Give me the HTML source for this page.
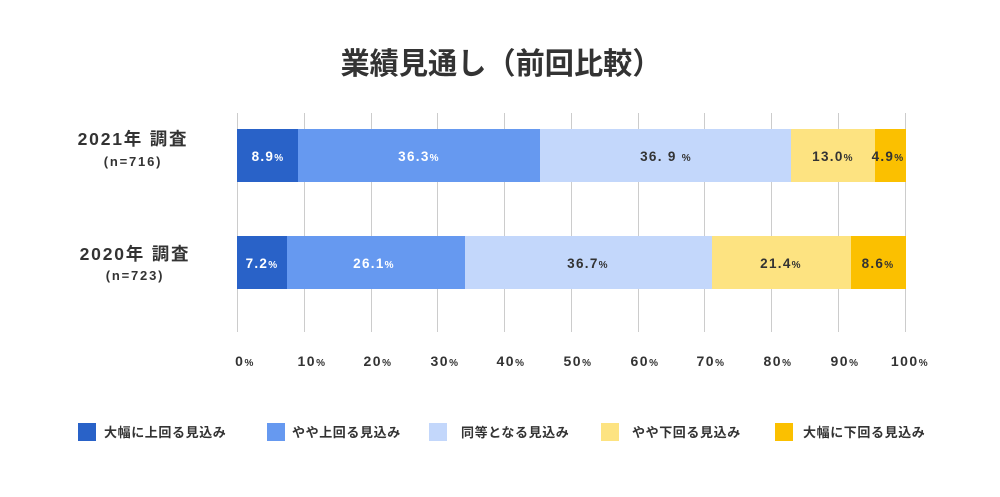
<!DOCTYPE html>
<html><head><meta charset="utf-8"><style>
html,body{margin:0;padding:0;background:#fff;}
svg{display:block;}
text{font-family:"Liberation Sans","Noto Sans CJK JP",sans-serif;font-weight:bold;}
</style></head><body>
<svg width="1000" height="497" viewBox="0 0 1000 497" xmlns="http://www.w3.org/2000/svg">
<text x="501" y="74" font-size="30" fill="#333" text-anchor="middle" textLength="321" lengthAdjust="spacingAndGlyphs">業績見通し（前回比較）</text>
<g stroke="#cccccc" stroke-width="1">
<line x1="237.5" y1="113" x2="237.5" y2="332"/>
<line x1="304.5" y1="113" x2="304.5" y2="332"/>
<line x1="371.5" y1="113" x2="371.5" y2="332"/>
<line x1="437.5" y1="113" x2="437.5" y2="332"/>
<line x1="504.5" y1="113" x2="504.5" y2="332"/>
<line x1="571.5" y1="113" x2="571.5" y2="332"/>
<line x1="638.5" y1="113" x2="638.5" y2="332"/>
<line x1="704.5" y1="113" x2="704.5" y2="332"/>
<line x1="771.5" y1="113" x2="771.5" y2="332"/>
<line x1="838.5" y1="113" x2="838.5" y2="332"/>
<line x1="905.5" y1="113" x2="905.5" y2="332"/>
</g>
<rect x="237" y="129" width="61" height="53" fill="#2962c8"/>
<rect x="298" y="129" width="242" height="53" fill="#6699f0"/>
<rect x="540" y="129" width="251" height="53" fill="#c3d7fb"/>
<rect x="791" y="129" width="84" height="53" fill="#fde381"/>
<rect x="875" y="129" width="31" height="53" fill="#fbc000"/>
<rect x="237" y="236" width="50" height="53" fill="#2962c8"/>
<rect x="287" y="236" width="178" height="53" fill="#6699f0"/>
<rect x="465" y="236" width="247" height="53" fill="#c3d7fb"/>
<rect x="712" y="236" width="139" height="53" fill="#fde381"/>
<rect x="851" y="236" width="55" height="53" fill="#fbc000"/>
<g font-size="13.5" text-anchor="middle" letter-spacing="1.3">
<text x="268" y="161" fill="#fff">8.9<tspan font-size="10">%</tspan></text>
<text x="419" y="161" fill="#fff">36.3<tspan font-size="10">%</tspan></text>
<text x="666" y="161" fill="#333">36. 9 <tspan font-size="10">%</tspan></text>
<text x="833" y="161" fill="#333">13.0<tspan font-size="10">%</tspan></text>
<text x="888" y="161" fill="#333">4.9<tspan font-size="10">%</tspan></text>
<text x="262" y="268" fill="#fff">7.2<tspan font-size="10">%</tspan></text>
<text x="374" y="268" fill="#fff">26.1<tspan font-size="10">%</tspan></text>
<text x="588" y="268" fill="#333">36.7<tspan font-size="10">%</tspan></text>
<text x="781" y="268" fill="#333">21.4<tspan font-size="10">%</tspan></text>
<text x="878" y="268" fill="#333">8.6<tspan font-size="10">%</tspan></text>
</g>
<g fill="#333" text-anchor="middle" letter-spacing="1.8">
<text x="133" y="145" font-size="17.5">2021年 調査</text>
<text x="133" y="166" font-size="13">(n=716)</text>
<text x="135" y="260" font-size="17.5">2020年 調査</text>
<text x="135" y="280" font-size="13">(n=723)</text>
</g>
<g fill="#333" font-size="14" text-anchor="middle" letter-spacing="1.5">
<text x="245" y="366">0<tspan font-size="10">%</tspan></text>
<text x="312" y="366">10<tspan font-size="10">%</tspan></text>
<text x="378" y="366">20<tspan font-size="10">%</tspan></text>
<text x="445" y="366">30<tspan font-size="10">%</tspan></text>
<text x="511" y="366">40<tspan font-size="10">%</tspan></text>
<text x="578" y="366">50<tspan font-size="10">%</tspan></text>
<text x="645" y="366">60<tspan font-size="10">%</tspan></text>
<text x="711" y="366">70<tspan font-size="10">%</tspan></text>
<text x="778" y="366">80<tspan font-size="10">%</tspan></text>
<text x="845" y="366">90<tspan font-size="10">%</tspan></text>
<text x="910" y="366">100<tspan font-size="10">%</tspan></text>
</g>
<rect x="78" y="423" width="18" height="18" fill="#2962c8"/>
<rect x="267" y="423" width="18" height="18" fill="#6699f0"/>
<rect x="429" y="423" width="18" height="18" fill="#c3d7fb"/>
<rect x="601" y="423" width="18" height="18" fill="#fde381"/>
<rect x="775" y="423" width="18" height="18" fill="#fbc000"/>
<g fill="#333" font-size="13" letter-spacing="0.6">
<text x="104" y="437">大幅に上回る見込み</text>
<text x="292" y="437">やや上回る見込み</text>
<text x="461" y="437">同等となる見込み</text>
<text x="632" y="437">やや下回る見込み</text>
<text x="803" y="437">大幅に下回る見込み</text>
</g>
</svg>
</body></html>
